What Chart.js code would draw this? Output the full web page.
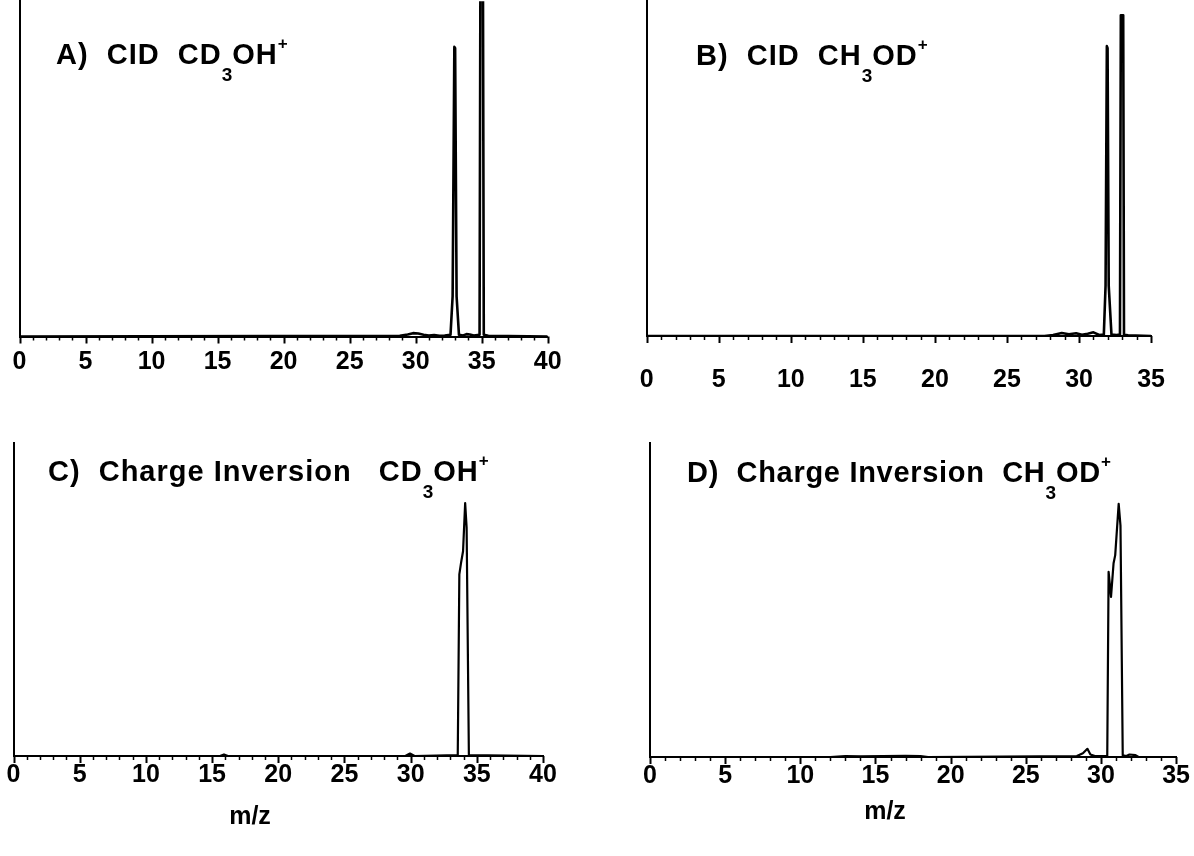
<!DOCTYPE html>
<html><head><meta charset="utf-8">
<script src="https://cdn.jsdelivr.net/npm/chart.js@4.4.1/dist/chart.umd.min.js"></script>
<style>
html,body{margin:0;padding:0;background:#fff;}
body{width:1194px;height:856px;overflow:hidden;position:relative;font-family:"Liberation Sans",Arial,sans-serif;color:#000;}
canvas.layer{position:absolute;left:0;top:0;}
.t{position:absolute;font-weight:bold;font-size:29px;line-height:30px;white-space:pre;letter-spacing:1px;}
.sb{font-size:19px;vertical-align:-17px;line-height:0;letter-spacing:0;}
.sp{font-size:17px;vertical-align:15px;line-height:0;}
.ax{position:absolute;font-weight:bold;font-size:25px;line-height:30px;width:120px;text-align:center;}
</style>
</head><body>
<canvas id="cA" class="layer" width="1194" height="856"></canvas>
<canvas id="cB" class="layer" width="1194" height="856"></canvas>
<canvas id="cC" class="layer" width="1194" height="856"></canvas>
<canvas id="cD" class="layer" width="1194" height="856"></canvas>

<div class="t" style="left:56px;top:39px;">A)  CID  CD<span class="sb">3</span>OH<span class="sp">+</span></div>
<div class="t" style="left:696px;top:40px;">B)  CID  CH<span class="sb">3</span>OD<span class="sp">+</span></div>
<div class="t" style="left:48px;top:456px;">C)  Charge Inversion   CD<span class="sb">3</span>OH<span class="sp">+</span></div>
<div class="t" style="left:687px;top:457px;letter-spacing:0.7px;">D)  Charge Inversion  CH<span class="sb">3</span>OD<span class="sp">+</span></div>
<div class="ax" style="left:190px;top:800px;">m/z</div>
<div class="ax" style="left:825px;top:795px;">m/z</div>

<script>
// ---- Panel A: CID CD3OH+ ----
const mzA  = [0, 28.8, 29.4, 29.8, 30.2, 30.6, 31.0, 31.4, 31.8, 32.2, 32.64, 32.8, 32.93, 32.99, 33.1, 33.28, 33.6, 33.85, 34.1, 34.4, 34.84, 34.905, 35.095, 35.16, 35.5, 40];
const intA = [0, 0.2, 0.6, 1.0, 0.9, 0.5, 0.3, 0.4, 0.2, 0.3, 0.5, 12, 86.4, 86, 12, 0.5, 0.3, 0.7, 0.6, 0.3, 0.5, 110, 110, 0.5, 0.2, 0];
// ---- Panel B: CID CH3OD+ ----
const mzB  = [0, 27.6, 28.2, 28.8, 29.3, 29.8, 30.2, 30.6, 31.0, 31.4, 31.72, 31.84, 31.93, 31.98, 32.06, 32.25, 32.6, 32.84, 32.9, 33.065, 33.12, 33.4, 35];
const intB = [0, 0, 0.3, 0.9, 0.5, 0.8, 0.4, 0.7, 1.1, 0.3, 0.4, 15, 86.6, 86, 15, 0.4, 0.3, 0.4, 95.8, 95.8, 0.4, 0.2, 0];
// ---- Panel C: Charge Inversion CD3OH+ ----
const mzC  = [0, 15.6, 15.9, 16.2, 29.6, 29.95, 30.3, 33.56, 33.68, 33.82, 33.96, 34.12, 34.23, 34.4, 40];
const intC = [0, 0, 0.5, 0, 0, 0.8, 0, 0.3, 58, 62, 65.4, 80.8, 73, 0.3, 0];
// ---- Panel D: Charge Inversion CH3OD+ ----
const mzD  = [0, 12, 13, 14, 15.5, 17, 18, 18.5, 28.4, 28.8, 29.1, 29.3, 29.6, 30.42, 30.51, 30.67, 30.84, 30.95, 31.18, 31.3, 31.45, 31.7, 31.9, 32.3, 32.5, 35];
const intD = [0, 0, 0.3, 0.2, 0.3, 0.4, 0.3, 0, 0.3, 1.2, 2.6, 0.8, 0.3, 0.3, 59, 51, 61.7, 64.3, 80.6, 73.7, 0.5, 0.3, 0.8, 0.6, 0, 0];
// axis ranges and tick steps
const xMaxAC = 40, xMaxBD = 35;
const majorStep = 5, minorStep = 1;

const minorTicks = {
  id: 'minorTicks',
  afterDraw(chart) {
    const s = chart.scales.x, ctx = chart.ctx;
    ctx.save();
    ctx.strokeStyle = '#000';
    for (let v = s.min; v <= s.max + 1e-9; v += minorStep) {
      const x = Math.round(s.getPixelForValue(v)) + 0.5;
      const major = Math.abs(v % majorStep) < 1e-9;
      ctx.lineWidth = major ? 2 : 1.5;
      ctx.beginPath();
      ctx.moveTo(x, s.top);
      ctx.lineTo(x, s.top + (major ? 7 : 4));
      ctx.stroke();
    }
    ctx.restore();
  }
};

function build(id, mz, it, xmax, area, labelCenter, lw) {
  const chart = new Chart(document.getElementById(id), {
    type: 'line',
    data: { datasets: [{
      data: mz.map((x, i) => ({ x: x, y: it[i] })),
      borderColor: '#000', borderWidth: lw, pointRadius: 0, tension: 0, fill: false,
      borderJoinStyle: 'round'
    }] },
    options: {
      responsive: false, animation: false, devicePixelRatio: 1,
      layout: { padding: { left: area.l, top: area.t, right: 1194 - area.r, bottom: 0 } },
      plugins: { legend: { display: false }, tooltip: { enabled: false }, title: { display: false } },
      scales: {
        x: {
          type: 'linear', min: 0, max: xmax,
          grid: { display: false, drawTicks: false },
          border: { display: true, color: '#000', width: 2 },
          ticks: { stepSize: majorStep, color: '#000', maxRotation: 0, autoSkip: false,
                   font: { family: 'Liberation Sans', weight: 'bold', size: 25 },
                   padding: labelCenter - area.b - 15 }
        },
        y: {
          min: 0, max: 100,
          grid: { display: false, drawTicks: false },
          border: { display: true, color: '#000', width: 2 },
          ticks: { display: false }
        }
      }
    },
    plugins: [minorTicks]
  });
  for (let k = 0; k < 4; k++) {
    const d = chart.chartArea.bottom - area.b;
    if (Math.abs(d) < 0.3) break;
    chart.options.layout.padding.bottom += d;
    chart.update('none');
  }
  return chart;
}

build('cA', mzA, intA, xMaxAC, { l: 19.5, r: 547.7, t: 0, b: 336.5 }, 362, 2.6);
build('cB', mzB, intB, xMaxBD, { l: 646.7, r: 1174.3, t: 0, b: 336 }, 380, 2.6);
build('cC', mzC, intC, xMaxAC, { l: 13.5, r: 543, t: 443, b: 756 }, 775, 2.2);
build('cD', mzD, intD, xMaxBD, { l: 650, r: 1177, t: 443, b: 757 }, 776, 2.2);
</script>
</body></html>
